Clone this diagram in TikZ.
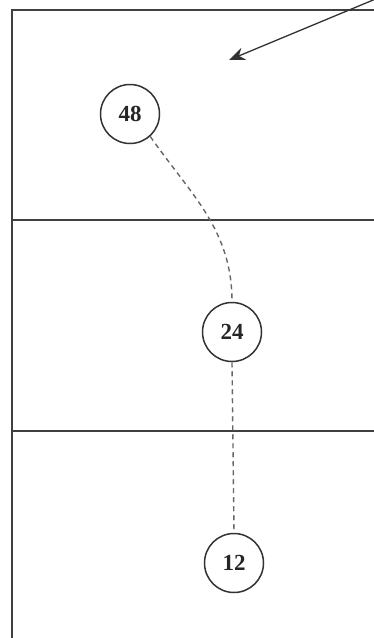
\documentclass[tikz,border=0pt]{standalone}
\usepackage{fontspec}
\setmainfont{Liberation Serif}
\usetikzlibrary{arrows.meta}
\begin{document}
\begin{tikzpicture}[x=1pt,y=-1pt,
  frame/.style={draw=black!75,line width=1.8pt},
  num/.style={circle,draw=black!80,line width=1.5pt,minimum size=59pt,inner sep=0pt,font=\fontsize{23}{23}\selectfont\bfseries,text=black!85},
  link/.style={draw=black!60,dashed,dash pattern=on 5pt off 4pt,line width=1.4pt}]
\useasboundingbox (0,0) rectangle (374,638);
\fill[white] (0,0) rectangle (374,638);
\coordinate (tl) at (12,10);
\coordinate (tr) at (376,10);
\coordinate (bl) at (12,640);
\draw[frame] (bl) -- (tl) -- (tr);
\coordinate (l1) at (12,220);
\coordinate (r1) at (376,220);
\coordinate (l2) at (12,431);
\coordinate (r2) at (376,431);
\draw[frame] (l1) -- (r1);
\draw[frame] (l2) -- (r2);
\node[num] (n48) at (130,114) {48};
\node[num] (n24) at (232,332) {24};
\node[num] (n12) at (234,563) {12};
\draw[link] (n48.-48) to[out=-55,in=90] (n24.north);
\draw[link] (n24.south) -- (n12.north);
\coordinate (as) at (378,-2);
\coordinate (ae) at (229,60);
\draw[black!80,line width=1.3pt,-{Stealth[length=16pt,width=13pt]}] (as) -- (ae);
\end{tikzpicture}
\end{document}
